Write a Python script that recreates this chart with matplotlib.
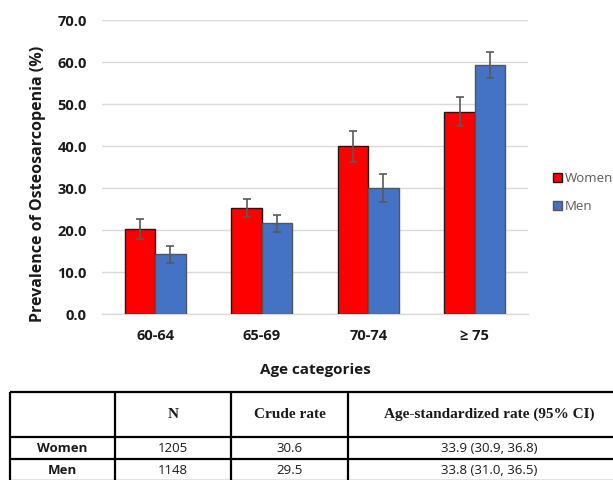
import numpy as np
import matplotlib.pyplot as plt

# chart data
age_groups = ['60-64', '65-69', '70-74', '\u2265 75']
women = [20.2, 25.3, 39.9, 48.2]
women_lo = [17.9, 23.2, 36.1, 44.8]
women_hi = [22.6, 27.4, 43.6, 51.6]
men = [14.3, 21.6, 30.0, 59.4]
men_lo = [12.1, 19.5, 26.7, 56.2]
men_hi = [16.3, 23.6, 33.4, 62.4]

# table data
col_headers = ['', 'N', 'Crude rate', 'Age-standardized rate (95% CI)']
row_labels = ['Women', 'Men']
n_values = ['1205', '1148']
crude_rates = ['30.6', '29.5']
std_rates = ['33.9 (30.9, 36.8)', '33.8 (31.0, 36.5)']

sans = 'Open Sans'
W, H = 613, 480
fig = plt.figure(figsize=(W / 100, H / 100), dpi=100)

# bar chart, placed in pixel coords
ax = fig.add_axes([102 / W, 1 - 314 / H, 426 / W, 294 / H])
x = np.arange(len(age_groups))
bw = 0.286
w_err = [np.array(women) - np.array(women_lo), np.array(women_hi) - np.array(women)]
m_err = [np.array(men) - np.array(men_lo), np.array(men_hi) - np.array(men)]
ax.bar(x - bw / 2, women, bw, color='#ff0000', edgecolor='#1a1a1a', linewidth=1.0,
       label='Women', zorder=3)
ax.bar(x + bw / 2, men, bw, color='#4472c4', edgecolor='#555555', linewidth=1.0,
       label='Men', zorder=3)
ax.errorbar(x - bw / 2, women, yerr=w_err, fmt='none', ecolor='#595959', elinewidth=1.2,
            capsize=2.8, capthick=1.2, zorder=4, clip_on=False)
ax.errorbar(x + bw / 2, men, yerr=m_err, fmt='none', ecolor='#595959', elinewidth=1.2,
            capsize=2.8, capthick=1.2, zorder=4, clip_on=False)

ax.set_xlim(-0.5, 3.5)
ax.set_ylim(0, 70)
ax.set_yticks(np.arange(0, 71, 10))
ax.set_yticklabels([f'{v:.1f}' for v in np.arange(0, 71, 10)], fontfamily=sans,
                   fontweight='bold', fontsize=10.5, color='#1a1a1a')
ax.set_xticks(x)
ax.set_xticklabels(age_groups, fontfamily=sans, fontweight='bold', fontsize=10.5,
                   color='#1a1a1a')
ax.tick_params(length=0)
ax.tick_params(axis='y', pad=11)
ax.tick_params(axis='x', pad=11)
ax.grid(axis='y', color='#d9d9d9', linewidth=1.0, zorder=0)
for s in ['top', 'right', 'left']:
    ax.spines[s].set_visible(False)
ax.spines['bottom'].set_color('#d9d9d9')
ax.spines['bottom'].set_linewidth(1.0)
ax.set_ylabel('Prevalence of Osteosarcopenia (%)', fontfamily=sans, fontweight='bold',
              fontsize=11.5, color='#1a1a1a')
ax.yaxis.set_label_coords(-0.132, 0.444)
ax.set_xlabel('Age categories', fontfamily=sans, fontweight='bold', fontsize=11,
              color='#1a1a1a', labelpad=14)

leg = ax.legend(loc='center left', bbox_to_anchor=(553 / W, 1 - 192.5 / H),
                bbox_transform=fig.transFigure, frameon=False, handlelength=0.7,
                handleheight=0.7, handletextpad=0.2, labelspacing=1.1,
                borderpad=0, borderaxespad=0,
                prop={'family': sans, 'size': 9.5})
for t in leg.get_texts():
    t.set_color('#595959')

# table drawn on an overlay in pixel coords
tx = fig.add_axes([0, 0, 1, 1])
tx.set_xlim(0, W)
tx.set_ylim(H, 0)
tx.axis('off')
col_x = [10, 115, 231, 348, 630]
row_y = [392, 437, 459, 481]
for cx in col_x:
    tx.plot([cx, cx], [row_y[0], row_y[-1]], color='black', lw=1.6, solid_capstyle='butt')
for ry in row_y:
    tx.plot([col_x[0], col_x[-1]], [ry, ry], color='black', lw=1.6, solid_capstyle='butt')

centers = [(col_x[i] + col_x[i + 1]) / 2 for i in range(4)]
hy = (row_y[0] + row_y[1]) / 2
for cx, h in zip(centers, col_headers):
    tx.text(cx, hy, h, ha='center', va='center', fontfamily='Liberation Serif',
            fontweight='bold', fontsize=11, color='#1a1a1a')
for i in range(len(row_labels)):
    ry = (row_y[i + 1] + row_y[i + 2]) / 2
    tx.text(centers[0], ry, row_labels[i], ha='center', va='center', fontfamily=sans,
            fontweight='bold', fontsize=9.5, color='#1a1a1a')
    for cx, val in zip(centers[1:], [n_values[i], crude_rates[i], std_rates[i]]):
        tx.text(cx, ry, val, ha='center', va='center', fontfamily=sans,
                fontsize=9.5, color='#1a1a1a')

fig.savefig('out.png', dpi=100)
